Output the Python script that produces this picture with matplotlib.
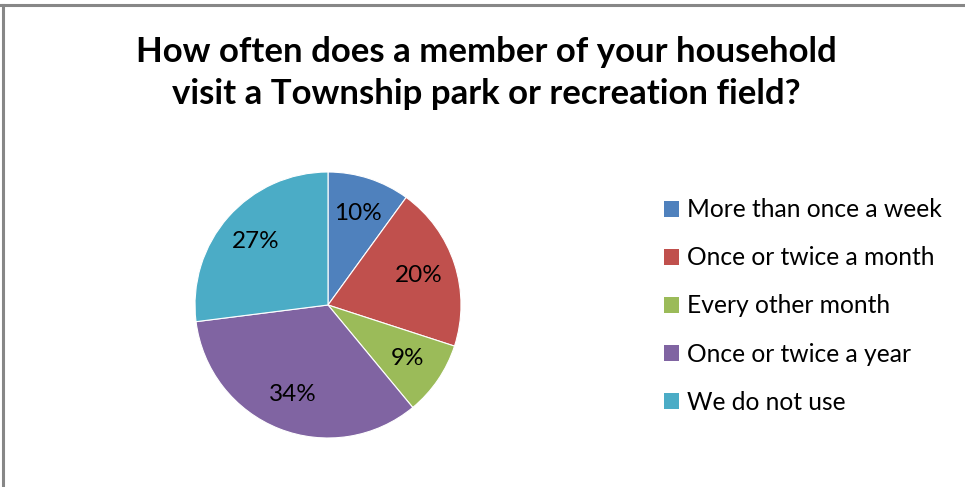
import matplotlib
matplotlib.use("Agg")
import matplotlib.pyplot as plt
from matplotlib.patches import Patch
from matplotlib.lines import Line2D

categories = [
    "More than once a week",
    "Once or twice a month",
    "Every other month",
    "Once or twice a year",
    "We do not use",
]
shares = [10, 20, 9, 34, 27]
colors = ["#4F81BD", "#C0504D", "#9BBB59", "#8064A2", "#4BACC6"]
title = "How often does a member of your household\nvisit a Township park or recreation field?"

plt.rcParams["font.family"] = ["Lato", "DejaVu Sans"]

W, H = 965, 487
fig = plt.figure(figsize=(W / 100, H / 100), dpi=100)
fig.patch.set_facecolor("white")

# chart frame (top and left edges visible)
fig.add_artist(Line2D([2.5 / W, 2.5 / W], [0, 1 - 5 / H], color="#878787", lw=2.2,
                      transform=fig.transFigure))
fig.add_artist(Line2D([0, 1], [1 - 5 / H, 1 - 5 / H], color="#878787", lw=2.2,
                      transform=fig.transFigure))

fig.text(486 / W, 1 - 73 / H, title, ha="center", va="center",
         fontsize=25, fontweight="bold", linespacing=1.42, color="#000000")

cx, cy, r = 328, 305, 133
ax = fig.add_axes([(cx - r) / W, (H - cy - r) / H, 2 * r / W, 2 * r / H])
wedges, texts = ax.pie(
    shares,
    colors=colors,
    startangle=90,
    counterclock=False,
    labels=[f"{v}%" for v in shares],
    labeldistance=0.72,
    wedgeprops=dict(linewidth=0.8, edgecolor="white"),
    textprops=dict(fontsize=17.5, color="#000000", ha="center", va="center"),
)
for t in texts:
    t.set_ha("center")
    t.set_va("center")
ax.set_xlim(-1, 1)
ax.set_ylim(-1, 1)
ax.set_aspect("auto")
ax.axis("off")

handles = [Patch(facecolor=c, edgecolor="none") for c in colors]
fig.legend(handles, categories, loc="upper left",
           bbox_to_anchor=(654 / W, 1 - 188.5 / H), frameon=False,
           fontsize=17.7, handlelength=0.62, handleheight=0.62,
           handletextpad=0.33, labelspacing=1.02, borderaxespad=0)

fig.savefig("out.png", dpi=100)
